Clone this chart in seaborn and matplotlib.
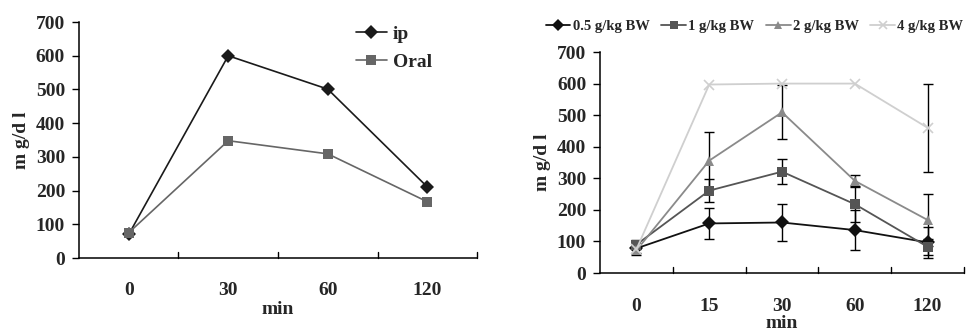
import numpy as np
import pandas as pd
import matplotlib
matplotlib.use("Agg")
import matplotlib.pyplot as plt
import seaborn as sns

sns.set_theme(style="white")
plt.rcParams['font.family'] = ['Liberation Serif', 'DejaVu Serif']
plt.rcParams['font.weight'] = 'bold'

# ---- left panel data ----
left_times = ["0", "30", "60", "120"]
ip_vals = [70, 600, 501, 211]
oral_vals = [75, 348, 309, 167]

# ---- right panel data ----
right_times = ["0", "15", "30", "60", "120"]
dose_labels = ["0.5 g/kg BW", "1 g/kg BW", "2 g/kg BW", "4 g/kg BW"]
d05_vals = [78, 157, 160, 136, 97]
d05_err = [15, 48, 58, 63, 48]
d1_vals = [90, 261, 321, 218, 83]
d1_err = [15, 37, 40, 57, 25]
d2_vals = [72, 356, 509, 292, 168]
d2_err = [15, 90, 85, 20, 82]
d4_vals = [75, 597, 600, 600, 460]
d4_err = [0, 0, 0, 0, 140]

yticks = [0, 100, 200, 300, 400, 500, 600, 700]

fig = plt.figure(figsize=(9.7, 3.34), dpi=100)
axL = fig.add_axes([0.0814, 0.2275, 0.4104, 0.7065])
axR = fig.add_axes([0.6186, 0.1826, 0.3752, 0.6617])

fs_tick = 14

def style_axes(ax, ncat, labels, xpad, xlpad):
    ax.set_xlim(-0.5, ncat - 0.5)
    ax.set_ylim(0, 700)
    ax.set_yticks(yticks)
    ax.set_yticklabels([str(t) for t in yticks], fontsize=fs_tick, fontweight='bold')
    ax.set_xticks(range(ncat))
    ax.set_xticklabels(labels, fontsize=fs_tick, fontweight='bold')
    ax.tick_params(axis='x', length=0, pad=xpad)
    ax.tick_params(axis='y', direction='out', length=5, width=1, color='black', pad=5, left=True)
    # category boundary ticks pointing up
    for b in np.arange(-0.5, ncat, 1.0)[1:]:
        ax.plot([b, b], [0, 0.027], transform=ax.get_xaxis_transform(),
                color='black', lw=1, clip_on=False)
    for s in ['top', 'right']:
        ax.spines[s].set_visible(False)
    for s in ['left', 'bottom']:
        ax.spines[s].set_color('black')
        ax.spines[s].set_linewidth(1.1)
    ax.set_ylabel("m g/d l", fontsize=14, fontweight='bold', labelpad=4)
    ax.set_xlabel("min", fontsize=14, fontweight='bold', labelpad=xlpad)
    ax.grid(False)

# left panel
left_series = [("ip", ip_vals, "#1a1a1a", "D"), ("Oral", oral_vals, "#666666", "s")]
for name, v, c, m in left_series:
    d = pd.DataFrame({"time": left_times, "value": v})
    sns.lineplot(data=d, x="time", y="value", color=c, marker=m, markersize=7,
                 markeredgewidth=0, linewidth=1.2, ax=axL, sort=False, label=name)
style_axes(axL, 4, left_times, 17, 2)
leg = axL.legend(loc='upper right', bbox_to_anchor=(0.93, 1.06), frameon=False,
                 prop={'family': 'Liberation Serif', 'weight': 'bold', 'size': 14},
                 handlelength=1.6, handletextpad=0.3, labelspacing=0.55)

# right panel
colors = ["#111111", "#555555", "#8a8a8a", "#cfcfcf"]
markers = ["D", "s", "^", "x"]
errs = [d05_err, d1_err, d2_err, d4_err]
vals = [d05_vals, d1_vals, d2_vals, d4_vals]
xs = np.arange(len(right_times))
for lab, v, e, c, m in zip(dose_labels, vals, errs, colors, markers):
    d = pd.DataFrame({"time": right_times, "value": v})
    kw = dict(markeredgewidth=0) if m != "x" else dict(markeredgewidth=1.2, markeredgecolor=c)
    sns.lineplot(data=d, x="time", y="value", color=c, marker=m, markersize=7,
                 linewidth=1.3, ax=axR, sort=False, label=lab, **kw)
    mask = np.array(e) > 0
    axR.errorbar(xs[mask], np.array(v)[mask], yerr=np.array(e)[mask], fmt='none',
                 ecolor='black', elinewidth=1.0, capsize=3.5, capthick=1.0, zorder=1)
style_axes(axR, 5, right_times, 18, 0)
legR = axR.legend(loc='center right', bbox_to_anchor=(1.0, 0.922),
                  bbox_transform=fig.transFigure, ncol=4, frameon=False,
                  prop={'family': 'Liberation Serif', 'weight': 'bold', 'size': 10.5},
                  handlelength=1.7, handletextpad=0.15, columnspacing=0.8,
                  borderaxespad=0.05)
for h in legR.legend_handles:
    h.set_markersize(6)

fig.savefig("out.png", dpi=100)
